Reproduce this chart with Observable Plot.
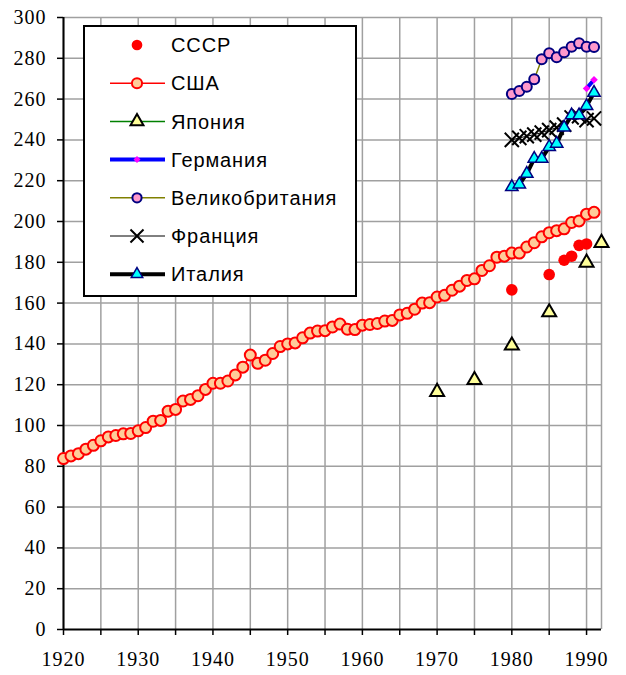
<!DOCTYPE html>
<html><head><meta charset="utf-8">
<script src="https://cdn.jsdelivr.net/npm/d3@7"></script>
<script src="https://cdn.jsdelivr.net/npm/@observablehq/plot@0.6"></script>
<style>
body{margin:0;background:#fff;}
#wrap{position:relative;width:626px;height:675px;}
#legend{position:absolute;left:0;top:0;pointer-events:none;}
</style></head><body><div id="wrap"></div>
<script>
// ---- data ----
const usYears = d3.range(1920, 1992);
const usValues = [83.8,85.1,86.2,88.4,90.3,92.5,94.4,95.1,95.9,96.1,
  97.4,99.0,102.1,102.5,107.0,107.9,112.0,112.8,114.6,117.7,
  120.7,120.7,121.8,124.8,128.6,134.5,130.5,132.0,135.3,138.7,
  140.0,140.5,143.0,145.3,146.3,146.5,148.3,149.7,147.2,147.0,
  149.2,149.5,150.0,151.2,151.5,154.2,155.0,157.0,160.0,160.2,
  163.0,163.8,166.3,168.3,171.1,171.9,176.0,178.3,182.5,183.0,
  184.5,184.5,187.5,189.6,192.5,194.5,195.5,196.4,199.5,200.3,
  203.6,204.5];
const ussrYears = [1980,1985,1987,1988,1989,1990];
const ussrValues = [166.5,174.0,181.0,183.0,188.3,189.0];
const japanYears = [1970,1975,1980,1985,1990,1992];
const japanValues = [116.5,122.3,139.2,155.5,179.8,189.5];
const germanyYears = [1990,1991];
const germanyValues = [265.2,269.5];
const lateYears = [1980,1981,1982,1983,1984,1985,1986,1987,1988,1989,1990,1991];
const ukValues = [262.5,264.0,266.0,269.7,279.5,282.5,280.5,283.0,285.7,287.4,285.7,285.5];
const franceValues = [240.0,241.0,241.8,242.6,243.6,244.8,246.0,247.5,251.0,251.6,249.7,250.5];
const italyValues = [216.9,218.2,223.4,230.8,230.8,236.6,238.2,246.1,252.1,252.1,256.6,263.1];
const seriesNames = ["СССР","США","Япония","Германия","Великобритания","Франция","Италия"];
const xTicks = [1920,1930,1940,1950,1960,1970,1980,1990];
const xGrid = [1920,1925,1930,1935,1940,1945,1950,1955,1960,1965,1970,1975,1980,1985,1990];
const yTicks = [0,20,40,60,80,100,120,140,160,180,200,220,240,260,280,300];

const zip = (xs, ys) => xs.map((x, i) => ({x, y: ys[i]}));
const us = zip(usYears, usValues);
const ussr = zip(ussrYears, ussrValues);
const japan = zip(japanYears, japanValues);
const germany = zip(germanyYears, germanyValues);
const uk = zip(lateYears, ukValues);
const france = zip(lateYears, franceValues);
const italy = zip(lateYears, italyValues);

// ---- styles (per series) ----
const styles = [
  {line:null, symbol:"circle", r:5.8, fill:"#ff0000", stroke:"none", sw:0},
  {line:{stroke:"#ff0000", w:1.5}, symbol:"circle", r:5.5, fill:"#ffcc99", stroke:"#ff0000", sw:2},
  {line:{stroke:"#008000", w:1.5}, symbol:"triangle", r:5.2, fill:"#ffff99", stroke:"#000000", sw:2},
  {line:{stroke:"#0000ff", w:4}, symbol:"diamond2", r:3.4, fill:"#ff00ff", stroke:"none", sw:0},
  {line:{stroke:"#808000", w:1.5}, symbol:"circle", r:5, fill:"#ff99cc", stroke:"#000080", sw:2},
  {line:{stroke:"#000000", w:1}, symbol:"times", r:6.5, fill:"none", stroke:"#000000", sw:2},
  {line:{stroke:"#000000", w:4}, symbol:"triangle", r:4.6, fill:"#00ffff", stroke:"#000080", sw:1.5}
];
const datasets = [ussr, us, japan, germany, uk, france, italy];
const drawLine = [false, true, false, true, true, true, true];

const serif = "'Liberation Serif', 'Times New Roman', serif";
const marks = [
  Plot.ruleX(xGrid, {stroke:"#a0a0a0", strokeWidth:1.5}),
  Plot.ruleX([1992], {stroke:"#a0a0a0", strokeWidth:1.5}),
  Plot.ruleY(yTicks.filter(d => d > 0), {stroke:"#a0a0a0", strokeWidth:1.5}),
  Plot.axisY({ticks: yTicks, tickSize: 6, tickPadding: 11, tickFormat: d => String(d), label: null, fontSize: 20, strokeWidth: 1.5}),
  Plot.axisX({ticks: xTicks, tickSize: 6, tickPadding: 16, tickFormat: d => String(d), label: null, fontSize: 20, strokeWidth: 1.5}),
  Plot.axisX({ticks: xGrid.filter(d => d % 10 === 5), tickSize: 6, tickFormat: () => "", label: null, strokeWidth: 1.5}),
  Plot.ruleX([1920], {stroke:"#000", strokeWidth:2}),
  Plot.ruleY([0], {stroke:"#000", strokeWidth:2})
];
datasets.forEach((data, i) => {
  const s = styles[i];
  if (drawLine[i] && s.line) marks.push(Plot.line(data, {x:"x", y:"y", stroke:s.line.stroke, strokeWidth:s.line.w}));
  marks.push(Plot.dot(data, {x:"x", y:"y", symbol:s.symbol, r:s.r, fill:s.fill, stroke:s.stroke, strokeWidth:s.sw}));
});

const chart = Plot.plot({
  width: 626, height: 675,
  marginLeft: 63, marginRight: 25, marginTop: 17, marginBottom: 46,
  x: {domain: [1920, 1992]},
  y: {domain: [0, 300]},
  style: {fontFamily: serif, fontSize: "20px", background: "#fff", color: "#000", overflow: "visible"},
  marks
});
chart.querySelectorAll("text").forEach(t => { t.setAttribute("letter-spacing", "1"); t.setAttribute("font-family", serif); t.setAttribute("font-size", "20"); });
document.getElementById("wrap").appendChild(chart);

// ---- legend (overlay inside the plot area) ----
const lg = d3.select("#wrap").append("svg").attr("id","legend").attr("width",626).attr("height",675);
lg.append("rect").attr("x",84).attr("y",26).attr("width",272).attr("height",270)
  .attr("fill","#fff").attr("stroke","#000").attr("stroke-width",2);
const symMap = {circle: d3.symbolCircle, triangle: d3.symbolTriangle, diamond2: d3.symbolDiamond2, times: d3.symbolTimes};
seriesNames.forEach((name, i) => {
  const s = styles[i];
  const y = 45 + i * 38.2;
  if (s.line) lg.append("line").attr("x1",110).attr("x2",165).attr("y1",y).attr("y2",y)
    .attr("stroke",s.line.stroke).attr("stroke-width",s.line.w);
  lg.append("path").attr("transform",`translate(137,${y})`)
    .attr("d", d3.symbol(symMap[s.symbol], Math.PI * s.r * s.r * 0.85)())
    .attr("fill", s.fill).attr("stroke", s.stroke).attr("stroke-width", s.sw);
  lg.append("text").attr("x",171).attr("y",y).attr("dy","0.36em")
    .attr("font-family","'Liberation Sans', Arial, sans-serif").attr("font-size",20)
    .attr("letter-spacing", 0.9)
    .text(name);
});
</script></body></html>
